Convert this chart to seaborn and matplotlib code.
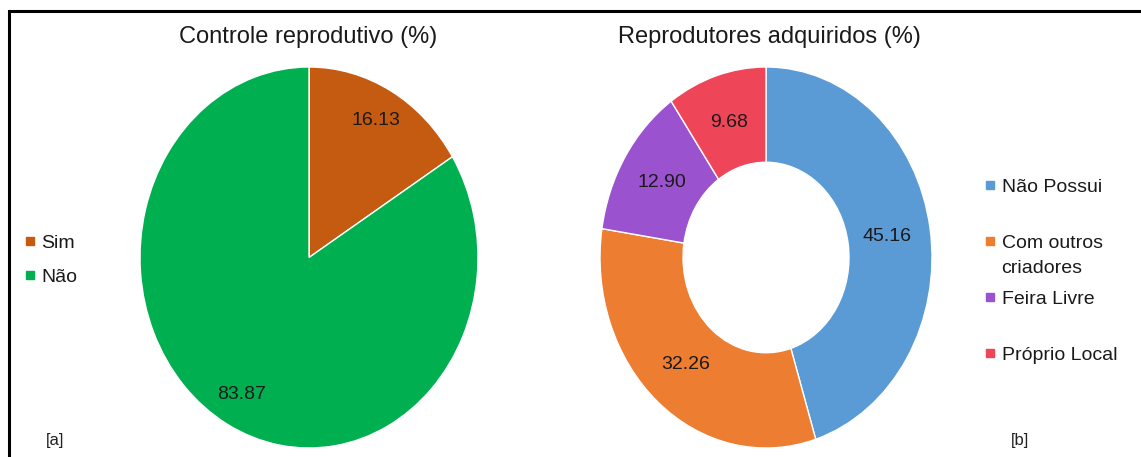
import matplotlib
matplotlib.use("Agg")
import matplotlib.pyplot as plt
from matplotlib.lines import Line2D
from matplotlib.patches import Rectangle
import seaborn as sns

# data
controle_labels = ["Sim", "Não"]
controle_values = [16.13, 83.87]
controle_colors = ["#C55A11", "#00B050"]

repro_labels = ["Não Possui", "Com outros\ncriadores", "Feira Livre", "Próprio Local"]
repro_values = [45.16, 32.26, 12.90, 9.68]
repro_colors = ["#5B9BD5", "#ED7D31", "#9B52CE", "#EF4558"]

sns.set_theme(style="white")
plt.rcParams["font.family"] = ["Liberation Sans", "DejaVu Sans"]

W, H = 1141, 457
fig = plt.figure(figsize=(W / 100, H / 100), dpi=100)
fig.patch.set_facecolor("white")


def px_axes(x0, x1, ytop, ybot):
    return fig.add_axes([x0 / W, (H - ybot) / H, (x1 - x0) / W, (ybot - ytop) / H])


def draw_pie(ax, values, colors, width=None, pctdist=0.8):
    wp = dict(edgecolor="white", linewidth=1)
    if width:
        wp["width"] = width
    ax.pie(values, colors=colors, startangle=90, counterclock=False,
           autopct="%.2f", pctdistance=pctdist, wedgeprops=wp,
           textprops=dict(fontsize=14, color="#1a1a1a"))
    ax.set_aspect("auto")
    ax.set_xlim(-1, 1)
    ax.set_ylim(-1, 1)
    ax.axis("off")


ax1 = px_axes(140, 478, 67, 448)
draw_pie(ax1, controle_values, controle_colors, pctdist=0.82)

ax2 = px_axes(600, 932, 67, 448)
draw_pie(ax2, repro_values, repro_colors, width=0.5, pctdist=0.74)

fig.text(308 / W, 1 - 37 / H, "Controle reprodutivo (%)", ha="center", va="center",
         fontsize=17, color="#1a1a1a")
fig.text(769 / W, 1 - 37 / H, "Reprodutores adquiridos (%)", ha="center", va="center",
         fontsize=17, color="#1a1a1a")


def add_legend(label, color, x, y):
    h = Line2D([], [], marker="s", ls="", markersize=6,
               color=color if color else "none")
    fig.legend([h], [label], loc="center left", bbox_to_anchor=(x / W, 1 - y / H),
               frameon=False, fontsize=14, handlelength=0.6, handletextpad=0.3,
               borderpad=0, borderaxespad=0, labelcolor="#1a1a1a")


# left legend
for lab, col, y in zip(controle_labels, controle_colors, [243, 277]):
    add_legend(lab, col, 24, y)

# right legend (wrapped entry split across two rows like the original)
right_rows = [("Não Possui", repro_colors[0], 187),
              ("Com outros", repro_colors[1], 243),
              ("criadores", None, 268),
              ("Feira Livre", repro_colors[2], 299),
              ("Próprio Local", repro_colors[3], 355)]
for lab, col, y in right_rows:
    add_legend(lab, col, 984, y)

fig.text(55 / W, 1 - 440 / H, "[a]", ha="center", va="center", fontsize=12, color="#222222")
fig.text(1020 / W, 1 - 440 / H, "[b]", ha="center", va="center", fontsize=12, color="#222222")

# outer frame (right/bottom edges fall outside the image, as in the original)
fig.patches.append(Rectangle((9 / W, -0.2), 1.2, 1.2 - 11 / H, transform=fig.transFigure,
                             fill=False, edgecolor="black", linewidth=2.2, clip_on=False))

fig.savefig("out.png", dpi=100)
